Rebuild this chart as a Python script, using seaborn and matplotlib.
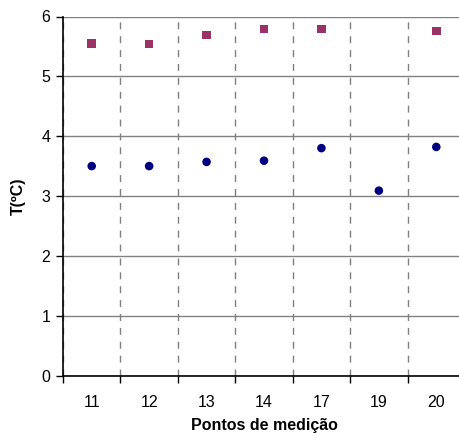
import matplotlib
matplotlib.use("Agg")
import matplotlib.pyplot as plt
import seaborn as sns
import numpy as np
import pandas as pd

categories = ["11", "12", "13", "14", "17", "19", "20"]
serie_circulos = [3.50, 3.50, 3.57, 3.59, 3.80, 3.09, 3.82]
serie_quadrados = [5.55, 5.54, 5.69, 5.79, 5.79, np.nan, 5.76]
y_ticks = [0, 1, 2, 3, 4, 5, 6]

sns.set_theme(style="white")
plt.rcParams['font.family'] = ['Liberation Sans', 'DejaVu Sans']
plt.rcParams['text.color'] = 'black'
plt.rcParams['axes.labelcolor'] = 'black'

df = pd.DataFrame({
    "ponto": categories * 2,
    "T": serie_circulos + serie_quadrados,
    "serie": ["a"] * len(categories) + ["b"] * len(categories),
})

fig = plt.figure(figsize=(4.6, 4.38), dpi=100)
ax = fig.add_axes([63 / 460, 62.5 / 438, (465 - 63) / 460, 359 / 438])

sns.scatterplot(data=df, x="ponto", y="T", hue="serie", style="serie",
                markers={"a": "o", "b": "s"},
                palette={"a": "#000080", "b": "#993366"},
                s=38, edgecolor="none", legend=False, ax=ax, zorder=5)

ax.set_xlim(-0.5, 6.5)
ax.set_ylim(0, 6)
ax.set_yticks(y_ticks)
ax.set_xticks(range(len(categories)))
ax.set_xticklabels(categories)
ax.set_xticks(np.arange(-0.5, 7.0, 1.0), minor=True)

ax.grid(axis="y", which="major", color="#808080", linewidth=1, linestyle="-")
ax.grid(axis="x", which="minor", color="#808080", linewidth=1, linestyle=(0, (5, 5)))
ax.grid(axis="x", which="major", visible=False)
ax.set_axisbelow(True)

ax.tick_params(axis="x", which="major", length=0, labelsize=11.5, pad=14, colors="black")
ax.tick_params(axis="x", which="minor", length=5, width=1, direction="out", color="black", bottom=True)
ax.tick_params(axis="y", which="major", length=5, width=1, direction="out", labelsize=11.5, pad=4, colors="black", left=True)

for side in ["top", "right"]:
    ax.spines[side].set_visible(False)
for side in ["left", "bottom"]:
    ax.spines[side].set_color("black")
    ax.spines[side].set_linewidth(1.2)

ax.set_xlabel("Pontos de medição", fontsize=11.5, fontweight="bold", labelpad=6, color="black")
ax.set_ylabel("T(ºC)", fontsize=11.5, fontweight="bold", labelpad=11, color="black")

fig.savefig("out.png", dpi=100)
